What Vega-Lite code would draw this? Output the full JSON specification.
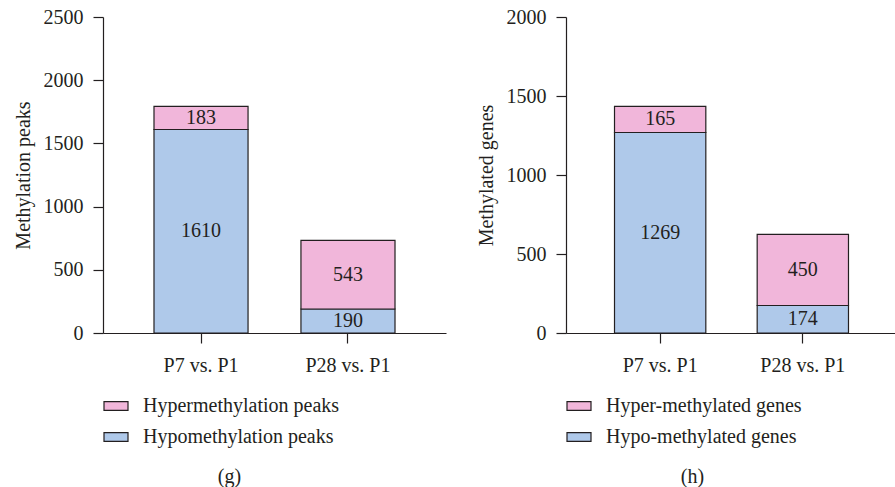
{
  "$schema": "https://vega.github.io/schema/vega-lite/v6.json",
  "padding": {"left": 13, "top": 7, "right": 0, "bottom": 0},
  "background": "white",
  "spacing": 30,
  "config": {
    "font": "Liberation Serif",
    "view": {"stroke": null},
    "axis": {
      "domainColor": "#231f20", "tickColor": "#231f20", "labelColor": "#231f20", "titleColor": "#231f20",
      "labelFont": "Liberation Serif", "titleFont": "Liberation Serif",
      "labelFontSize": 20, "titleFontSize": 20, "titleFontWeight": "normal",
      "grid": false, "tickSize": 10, "domainWidth": 1.2, "tickWidth": 1.2
    },
    "legend": {"labelFont": "Liberation Serif", "labelFontSize": 20, "labelColor": "#231f20", "labelLimit": 0},
    "title": {"font": "Liberation Serif", "fontSize": 20, "fontWeight": "normal", "color": "#231f20"}
  },
  "datasets": {
    "peaks": [
      {"comp": "P7 vs. P1", "type": "Hypomethylation peaks", "value": 1610},
      {"comp": "P7 vs. P1", "type": "Hypermethylation peaks", "value": 183},
      {"comp": "P28 vs. P1", "type": "Hypomethylation peaks", "value": 190},
      {"comp": "P28 vs. P1", "type": "Hypermethylation peaks", "value": 543}
    ],
    "genes": [
      {"comp": "P7 vs. P1", "type": "Hypo-methylated genes", "value": 1269},
      {"comp": "P7 vs. P1", "type": "Hyper-methylated genes", "value": 165},
      {"comp": "P28 vs. P1", "type": "Hypo-methylated genes", "value": 174},
      {"comp": "P28 vs. P1", "type": "Hyper-methylated genes", "value": 450}
    ]
  },
  "resolve": {"scale": {"color": "independent", "y": "independent", "x": "independent"}, "legend": {"color": "independent"}},
  "hconcat": [
    {
      "width": 343, "height": 316,
      "data": {"name": "peaks"},
      "title": {"text": "(g)", "orient": "bottom", "anchor": "middle", "frame": "group", "dx": -45, "offset": 20},
      "transform": [
        {"stack": "value", "groupby": ["comp"], "sort": [{"field": "type", "order": "descending"}], "as": ["v0", "v1"]},
        {"calculate": "(datum.v0 + datum.v1) / 2", "as": "mid"}
      ],
      "encoding": {
        "x": {"field": "comp", "type": "nominal", "sort": ["P7 vs. P1", "P28 vs. P1"],
              "scale": {"paddingInner": 0.36, "paddingOuter": 0.347},
              "axis": {"title": null, "labelAngle": 0, "labelPadding": 12}}
      },
      "layer": [
        {
          "mark": {"type": "bar", "stroke": "#231f20", "strokeWidth": 1.2},
          "encoding": {
            "y": {"field": "v1", "type": "quantitative", "scale": {"domain": [0, 2500], "nice": false},
                  "axis": {"title": "Methylation peaks", "values": [0, 500, 1000, 1500, 2000, 2500], "format": "d", "labelPadding": 10, "titlePadding": 10}},
            "y2": {"field": "v0"},
            "color": {"field": "type", "type": "nominal",
                      "scale": {"domain": ["Hypermethylation peaks", "Hypomethylation peaks"], "range": ["#f1b6da", "#afc9ea"]},
                      "legend": {"title": null, "orient": "none", "legendX": 0, "legendY": 376, "direction": "vertical",
                                 "symbolType": "M-1,-0.36H1V0.36H-1Z", "symbolSize": 576, "symbolStrokeColor": "#231f20", "symbolStrokeWidth": 1.2, "symbolOpacity": 1,
                                 "labelOffset": 14, "rowPadding": 8}}
          }
        },
        {
          "mark": {"type": "text", "fontSize": 20, "color": "#231f20", "baseline": "middle"},
          "encoding": {
            "y": {"field": "mid", "type": "quantitative"},
            "text": {"field": "value", "type": "quantitative"}
          }
        }
      ]
    },
    {
      "width": 331, "height": 316,
      "data": {"name": "genes"},
      "title": {"text": "(h)", "orient": "bottom", "anchor": "middle", "frame": "group", "dx": -39, "offset": 20},
      "transform": [
        {"stack": "value", "groupby": ["comp"], "sort": [{"field": "type", "order": "descending"}], "as": ["v0", "v1"]},
        {"calculate": "(datum.v0 + datum.v1) / 2", "as": "mid"}
      ],
      "encoding": {
        "x": {"field": "comp", "type": "nominal", "sort": ["P7 vs. P1", "P28 vs. P1"],
              "scale": {"paddingInner": 0.36, "paddingOuter": 0.34},
              "axis": {"title": null, "labelAngle": 0, "labelPadding": 12}}
      },
      "layer": [
        {
          "mark": {"type": "bar", "stroke": "#231f20", "strokeWidth": 1.2},
          "encoding": {
            "y": {"field": "v1", "type": "quantitative", "scale": {"domain": [0, 2000], "nice": false},
                  "axis": {"title": "Methylated genes", "values": [0, 500, 1000, 1500, 2000], "format": "d", "labelPadding": 10, "titlePadding": 10}},
            "y2": {"field": "v0"},
            "color": {"field": "type", "type": "nominal",
                      "scale": {"domain": ["Hyper-methylated genes", "Hypo-methylated genes"], "range": ["#f1b6da", "#afc9ea"]},
                      "legend": {"title": null, "orient": "none", "legendX": 0, "legendY": 376, "direction": "vertical",
                                 "symbolType": "M-1,-0.36H1V0.36H-1Z", "symbolSize": 576, "symbolStrokeColor": "#231f20", "symbolStrokeWidth": 1.2, "symbolOpacity": 1,
                                 "labelOffset": 14, "rowPadding": 8}}
          }
        },
        {
          "mark": {"type": "text", "fontSize": 20, "color": "#231f20", "baseline": "middle"},
          "encoding": {
            "y": {"field": "mid", "type": "quantitative"},
            "text": {"field": "value", "type": "quantitative"}
          }
        }
      ]
    }
  ]
}
